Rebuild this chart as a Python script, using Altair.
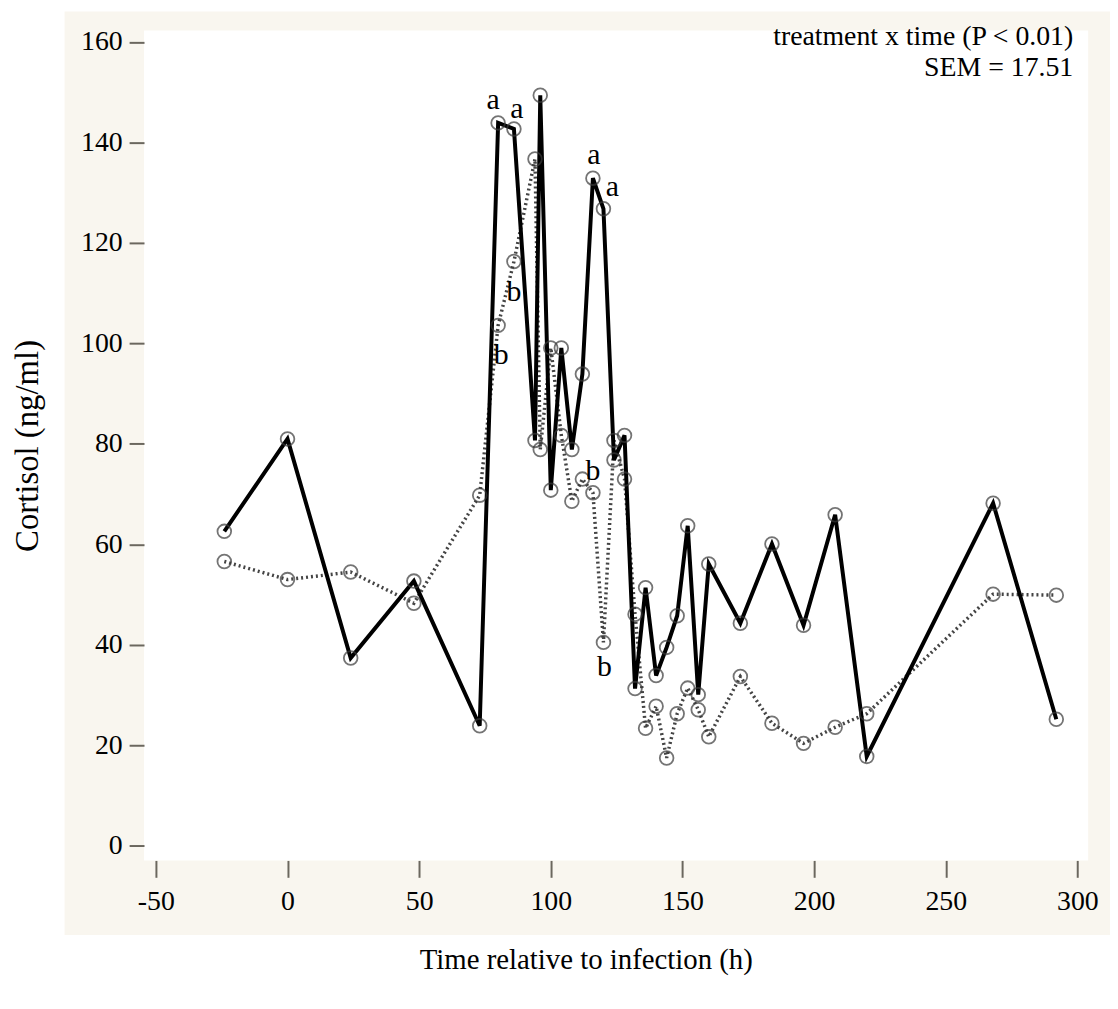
import altair as alt
import pandas as pd

# ---- data ----
time_h = [-24, 0, 24, 48, 73, 80, 86, 94, 96, 100, 104, 108, 112, 116, 120, 124,
          128, 132, 136, 140, 144, 148, 152, 156, 160, 172, 184, 196, 208, 220, 268, 292]
cortisol_solid = [62.6, 81.0, 37.4, 52.7, 23.9, 143.9, 142.7, 80.7, 149.4, 70.8, 99.1,
                  78.9, 93.9, 132.9, 126.8, 76.8, 81.7, 31.3, 51.4, 33.9, 39.5, 45.8,
                  63.7, 30.1, 56.1, 44.3, 60.1, 43.9, 65.9, 17.8, 68.2, 25.2]
cortisol_dotted = [56.6, 53.0, 54.5, 48.3, 69.8, 103.6, 116.3, 136.7, 78.9, 99.1, 81.7,
                   68.6, 73.0, 70.3, 40.5, 80.7, 73.0, 46.1, 23.4, 27.8, 17.5, 26.3,
                   31.4, 27.1, 21.7, 33.7, 24.4, 20.4, 23.6, 26.3, 50.1, 49.9]

sig_series = ["solid", "solid", "solid", "solid", "dotted", "dotted", "dotted", "dotted"]
sig_times = [80, 86, 116, 120, 80, 86, 116, 120]
sig_letters = ["a", "a", "a", "a", "b", "b", "b", "b"]

annotation_lines = ["treatment x time (P < 0.01)", "SEM = 17.51"]

x_ticks = [-50, 0, 50, 100, 150, 200, 250, 300]
y_ticks = [0, 20, 40, 60, 80, 100, 120, 140, 160]

# ---- layout / style ----
W, H = 951, 836
FONT = "Liberation Serif"
FRAME = "#6b675e"
BEIGE = "#f9f6ef"

solid_df = pd.DataFrame({"time": time_h, "cortisol": cortisol_solid})
dotted_df = pd.DataFrame({"time": time_h, "cortisol": cortisol_dotted})

xs = alt.Scale(domain=[-54.5, 304.1], nice=False, zero=False)
ys = alt.Scale(domain=[-2.9, 162.3], nice=False, zero=False)

x_enc = alt.X("time:Q", scale=xs,
              axis=alt.Axis(values=x_ticks, title="Time relative to infection (h)",
                            labelExpr="'' + datum.value",
                            titleX=445, titleY=100, titleBaseline="middle",
                            titleFontSize=29, titleFontWeight="normal", titleFont=FONT,
                            tickSize=17, labelPadding=10, zindex=1))
y_enc = alt.Y("cortisol:Q", scale=ys,
              axis=alt.Axis(values=y_ticks, title="Cortisol (ng/ml)",
                            titleX=-117, titleBaseline="middle", titleAngle=-90,
                            titleFontSize=33, titleFontWeight="normal", titleFont=FONT,
                            tickSize=15, labelPadding=7, zindex=1))

dummy = pd.DataFrame({"k": [0]})

beige = alt.Chart(dummy).mark_rect(color=BEIGE).encode(
    x=alt.value(-80), x2=alt.value(980), y=alt.value(-19), y2=alt.value(911))
white = alt.Chart(dummy).mark_rect(color="white").encode(
    x=alt.value(0), x2=alt.value(W), y=alt.value(0), y2=alt.value(H))

dotted_line = alt.Chart(dotted_df).mark_line(
    color="#444444", strokeWidth=3.5, strokeDash=[2, 3]).encode(x=x_enc, y=y_enc)
solid_line = alt.Chart(solid_df).mark_line(
    color="black", strokeWidth=4).encode(x=x_enc, y=y_enc)
dotted_pts = alt.Chart(dotted_df).mark_point(
    shape="circle", filled=False, size=190, strokeWidth=1.8, color="#3a3a3a").encode(
    x=x_enc, y=y_enc)
solid_pts = alt.Chart(solid_df).mark_point(
    shape="circle", filled=False, size=190, strokeWidth=1.8, color="#3a3a3a").encode(
    x=x_enc, y=y_enc)

# significance letters placed relative to their points
offsets = [(-5, -23), (3, -20), (1, -23), (9, -22), (3, 30), (0, 31), (0, -22), (1, 25)]
letter_layers = []
for s, t, l, (dx, dy) in zip(sig_series, sig_times, sig_letters, offsets):
    vals = cortisol_solid if s == "solid" else cortisol_dotted
    v = vals[time_h.index(t)]
    d = pd.DataFrame({"time": [t], "cortisol": [v], "letter": [l]})
    letter_layers.append(
        alt.Chart(d).mark_text(font=FONT, fontSize=30, dx=dx, dy=dy,
                               baseline="middle", align="center", color="black")
        .encode(x=x_enc, y=y_enc, text="letter:N"))

ann_layers = []
for i, line in enumerate(annotation_lines):
    d = pd.DataFrame({"t": [line]})
    ann_layers.append(
        alt.Chart(d).mark_text(font=FONT, fontSize=28, align="right",
                               baseline="middle", color="black")
        .encode(x=alt.value(936), y=alt.value(7 + 31 * i), text="t:N"))

chart = alt.layer(beige, white, dotted_line, solid_line, dotted_pts, solid_pts,
                  *letter_layers, *ann_layers).properties(
    width=W, height=H,
    autosize=alt.AutoSizeParams(type="none"),
    padding={"left": 137, "top": 19, "right": 22, "bottom": 140},
    background="white",
).configure_view(stroke=FRAME, strokeWidth=2).configure_axis(
    domain=False, grid=False, tickColor=FRAME, tickWidth=2,
    labelFont=FONT, labelFontSize=28, labelColor="black", titleColor="black")

chart.save("out.html", embed_options={"renderer": "svg", "actions": False})
